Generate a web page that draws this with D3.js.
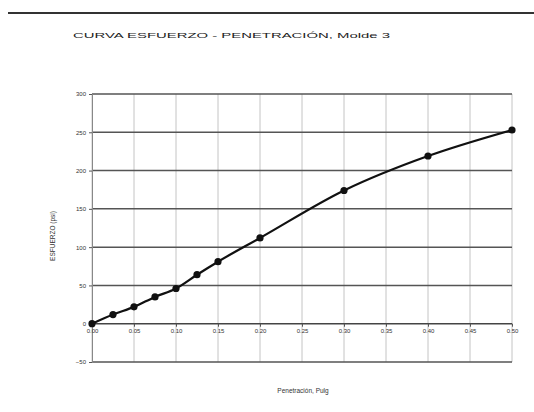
<!DOCTYPE html>
<html><head><meta charset="utf-8">
<script src="https://cdn.jsdelivr.net/npm/d3@7"></script>
<style>body{margin:0;background:#fff}svg{display:block;font-family:"Liberation Sans",Arial,sans-serif}</style>
</head><body><svg id="c" width="534" height="412"></svg>
<script>
const titleText = "CURVA ESFUERZO - PENETRACIÓN, Molde 3";
const xLabel = "Penetración, Pulg";
const yLabel = "ESFUERZO (psi)";
const penetration = [0, 0.025, 0.05, 0.075, 0.1, 0.125, 0.15, 0.2, 0.3, 0.4, 0.5];
const stress = [0, 12, 22, 35, 46, 64, 81, 112, 174, 219, 253];
const xTicks = [0, 0.05, 0.1, 0.15, 0.2, 0.25, 0.3, 0.35, 0.4, 0.45, 0.5];
const xTickLabels = ["0.00","0.05","0.10","0.15","0.20","0.25","0.30","0.35","0.40","0.45","0.50"];
const yTicks = [-50, 0, 50, 100, 150, 200, 250, 300];

const svg = d3.select("#c");
const x = d3.scaleLinear().domain([0, 0.5]).range([92, 512]);
const y = d3.scaleLinear().domain([-50, 300]).range([362, 94]);

// top rule
svg.append("line").attr("x1", 8).attr("x2", 534).attr("y1", 13).attr("y2", 13)
  .attr("stroke", "#333").attr("stroke-width", 2);

svg.append("text").attr("x", 73).attr("y", 38).attr("font-size", 8).attr("fill", "#222")
  .attr("textLength", 317).attr("lengthAdjust", "spacingAndGlyphs").text(titleText);

// vertical grid
svg.append("g").selectAll("line").data(xTicks).join("line")
  .attr("x1", d => x(d)).attr("x2", d => x(d)).attr("y1", y(300)).attr("y2", y(-50))
  .attr("stroke", "#c4c4c4").attr("stroke-width", 1);

// horizontal grid
svg.append("g").selectAll("line").data(yTicks).join("line")
  .attr("x1", x(0)).attr("x2", x(0.5)).attr("y1", d => y(d)).attr("y2", d => y(d))
  .attr("stroke", d => d === 0 ? "#444" : "#555").attr("stroke-width", 1.5);

// y axis
const yAxis = d3.axisLeft(y).tickValues(yTicks).tickSize(3).tickPadding(3);
const gy = svg.append("g").attr("transform", `translate(${x(0)},0)`).call(yAxis);
gy.select(".domain").attr("stroke", "#888");
gy.selectAll("text").attr("font-size", 6).attr("fill", "#333");
gy.selectAll(".tick line").attr("stroke", "#555");

// x axis (labels just below zero line)
const xAxis = d3.axisBottom(x).tickValues(xTicks).tickFormat((d, i) => xTickLabels[i]).tickSize(3).tickPadding(2);
const gx = svg.append("g").attr("transform", `translate(0,${y(0)})`).call(xAxis);
gx.select(".domain").remove();
gx.selectAll("text").attr("font-size", 6).attr("fill", "#333");
gx.selectAll(".tick line").attr("stroke", "#555");

// curve
const pts = penetration.map((p, i) => [p, stress[i]]);
svg.append("path").datum(pts)
  .attr("d", d3.line().x(d => x(d[0])).y(d => y(d[1])).curve(d3.curveMonotoneX))
  .attr("fill", "none").attr("stroke", "#111").attr("stroke-width", 2.2);
svg.append("g").selectAll("circle").data(pts).join("circle")
  .attr("cx", d => x(d[0])).attr("cy", d => y(d[1])).attr("r", 3.6).attr("fill", "#111");

// axis labels
svg.append("text").attr("x", 303).attr("y", 393).attr("text-anchor", "middle")
  .attr("font-size", 6.5).attr("fill", "#333").text(xLabel);
svg.append("text").attr("transform", "translate(55,236) rotate(-90)").attr("text-anchor", "middle")
  .attr("font-size", 6.5).attr("fill", "#333").text(yLabel);
</script></body></html>
